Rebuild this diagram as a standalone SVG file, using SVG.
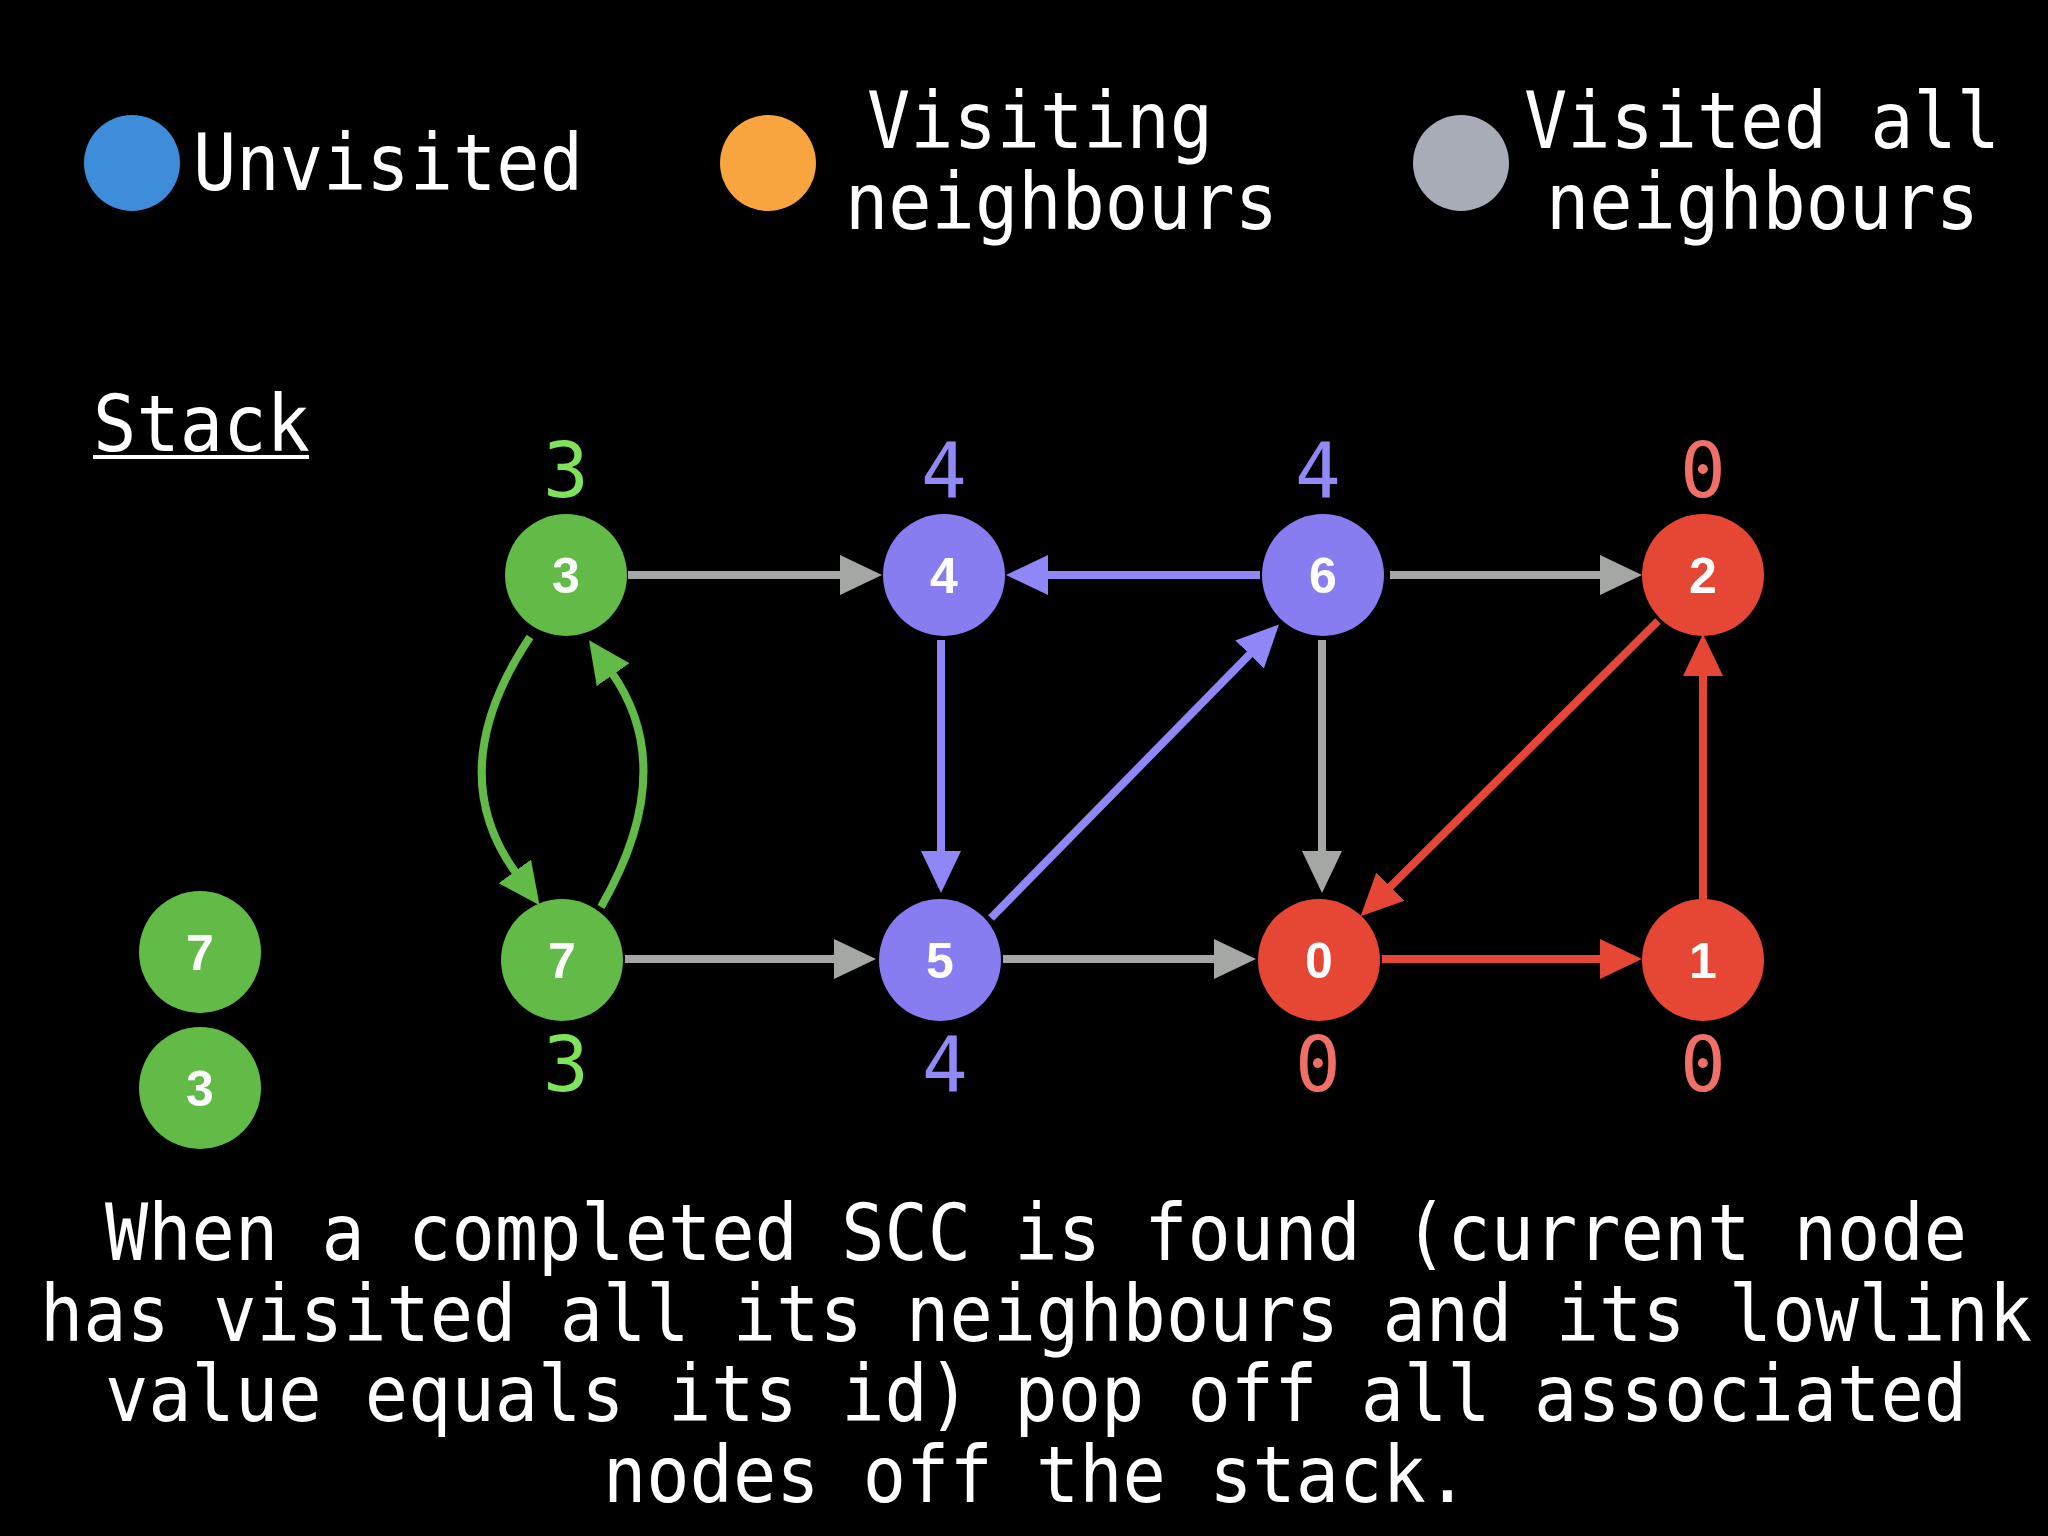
<svg xmlns="http://www.w3.org/2000/svg" width="2048" height="1536" viewBox="0 0 2048 1536">
<style>
.t{font-family:"DejaVu Sans Mono","Liberation Mono",monospace;font-size:78px;fill:#ffffff}
.n{font-family:"Liberation Sans","Noto Sans",sans-serif;font-weight:bold;font-size:50px;fill:#ffffff;text-anchor:middle}
.lab{font-family:"DejaVu Sans Mono","Liberation Mono",monospace;font-size:76px;text-anchor:middle}
.e{fill:none;stroke-width:8}
.gray{stroke:#a5a7a4}
.pur{stroke:#8f86f7}
.red{stroke:#e64634}
.grn{stroke:#62ba47}
</style>
<defs>
<marker id="ag" markerUnits="userSpaceOnUse" markerWidth="42" markerHeight="42" viewBox="0 0 42 42" refX="2" refY="21" orient="auto"><path d="M0,1 L42,21 L0,41 Z" fill="#a5a7a4"/></marker>
<marker id="ap" markerUnits="userSpaceOnUse" markerWidth="42" markerHeight="42" viewBox="0 0 42 42" refX="2" refY="21" orient="auto"><path d="M0,1 L42,21 L0,41 Z" fill="#8f86f7"/></marker>
<marker id="ar" markerUnits="userSpaceOnUse" markerWidth="42" markerHeight="42" viewBox="0 0 42 42" refX="2" refY="21" orient="auto"><path d="M0,1 L42,21 L0,41 Z" fill="#e64634"/></marker>
<marker id="agr" markerUnits="userSpaceOnUse" markerWidth="42" markerHeight="42" viewBox="0 0 42 42" refX="2" refY="21" orient="auto"><path d="M0,1 L42,21 L0,41 Z" fill="#62ba47"/></marker>
</defs>
<rect x="0" y="0" width="2048" height="1536" fill="#000000"/>

<g id="legend">
<circle cx="132" cy="163" r="48" fill="#3e8ddb"/>
<text class="t" x="193" y="190" textLength="390" lengthAdjust="spacingAndGlyphs">Unvisited</text>
<circle cx="768" cy="163" r="48" fill="#f8a540"/>
<text class="t" x="867" y="148" textLength="346" lengthAdjust="spacingAndGlyphs">Visiting</text>
<text class="t" x="845" y="229" textLength="433" lengthAdjust="spacingAndGlyphs">neighbours</text>
<circle cx="1461" cy="163" r="48" fill="#a7acb7"/>
<text class="t" x="1524" y="148" textLength="476" lengthAdjust="spacingAndGlyphs">Visited all</text>
<text class="t" x="1546" y="229" textLength="433" lengthAdjust="spacingAndGlyphs">neighbours</text>
</g>

<g id="stack-title">
<text class="t" x="93" y="451" textLength="217" lengthAdjust="spacingAndGlyphs">Stack</text>
<rect x="93" y="455" width="216" height="4" fill="#ffffff"/>
</g>

<g id="connectors">
<line class="e gray" x1="628" y1="575" x2="842" y2="575" marker-end="url(#ag)"/>
<line class="e pur" x1="1260" y1="575" x2="1046" y2="575" marker-end="url(#ap)"/>
<line class="e gray" x1="1390" y1="575" x2="1602" y2="575" marker-end="url(#ag)"/>
<line class="e pur" x1="941" y1="640" x2="941" y2="853" marker-end="url(#ap)"/>
<line class="e gray" x1="1322" y1="640" x2="1322" y2="853" marker-end="url(#ag)"/>
<line class="e pur" x1="991" y1="918" x2="1251" y2="653" marker-end="url(#ap)"/>
<line class="e red" x1="1658" y1="621" x2="1389" y2="888" marker-end="url(#ar)"/>
<line class="e gray" x1="625" y1="959" x2="836" y2="959" marker-end="url(#ag)"/>
<line class="e gray" x1="1003" y1="959" x2="1216" y2="959" marker-end="url(#ag)"/>
<line class="e red" x1="1382" y1="959" x2="1602" y2="959" marker-end="url(#ar)"/>
<line class="e red" x1="1703" y1="899" x2="1703" y2="674" marker-end="url(#ar)"/>
<path class="e grn" d="M530,637 Q441,770 516,873" marker-end="url(#agr)"/>
<path class="e grn" d="M601,907 Q680,770 612,673" marker-end="url(#agr)"/>
</g>

<g id="node-3"><circle cx="566" cy="575" r="61" fill="#62ba47"/><text class="n" x="566" y="593">3</text></g>
<g id="node-4"><circle cx="944" cy="575" r="61" fill="#877cf0"/><text class="n" x="944" y="593">4</text></g>
<g id="node-6"><circle cx="1323" cy="575" r="61" fill="#877cf0"/><text class="n" x="1323" y="593">6</text></g>
<g id="node-2"><circle cx="1703" cy="575" r="61" fill="#e64634"/><text class="n" x="1703" y="593">2</text></g>
<g id="node-7"><circle cx="562" cy="960" r="61" fill="#62ba47"/><text class="n" x="562" y="978">7</text></g>
<g id="node-5"><circle cx="940" cy="960" r="61" fill="#877cf0"/><text class="n" x="940" y="978">5</text></g>
<g id="node-0"><circle cx="1319" cy="960" r="61" fill="#e64634"/><text class="n" x="1319" y="978">0</text></g>
<g id="node-1"><circle cx="1703" cy="960" r="61" fill="#e64634"/><text class="n" x="1703" y="978">1</text></g>

<g id="stack-7"><circle cx="200" cy="952" r="61" fill="#62ba47"/><text class="n" x="200" y="970">7</text></g>
<g id="stack-3"><circle cx="200" cy="1088" r="61" fill="#62ba47"/><text class="n" x="200" y="1106">3</text></g>

<g id="lowlinks">
<text class="lab" x="566" y="497" fill="#7ee35a">3</text>
<text class="lab" x="944" y="497" fill="#918af6">4</text>
<text class="lab" x="1318" y="497" fill="#918af6">4</text>
<text class="lab" x="1703" y="497" fill="#f07068">0</text>
<text class="lab" x="566" y="1091" fill="#7ee35a">3</text>
<text class="lab" x="945" y="1091" fill="#918af6">4</text>
<text class="lab" x="1318" y="1091" fill="#f07068">0</text>
<text class="lab" x="1703" y="1091" fill="#f07068">0</text>
</g>

<g id="caption">
<text class="t" x="1036" y="1260" text-anchor="middle" textLength="1862" lengthAdjust="spacingAndGlyphs">When a completed SCC is found (current node</text>
<text class="t" x="1036" y="1341" text-anchor="middle" textLength="1992" lengthAdjust="spacingAndGlyphs">has visited all its neighbours and its lowlink</text>
<text class="t" x="1036" y="1421" text-anchor="middle" textLength="1862" lengthAdjust="spacingAndGlyphs">value equals its id) pop off all associated</text>
<text class="t" x="1036" y="1502" text-anchor="middle" textLength="866" lengthAdjust="spacingAndGlyphs">nodes off the stack.</text>
</g>
</svg>
